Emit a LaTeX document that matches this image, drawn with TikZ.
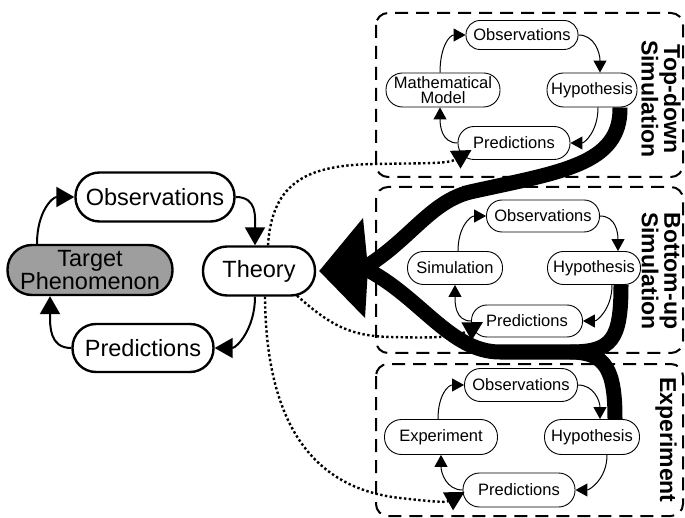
\documentclass[tikz,border=0pt]{standalone}
\usepackage{fontspec}
\setmainfont{Liberation Sans}
\usetikzlibrary{arrows.meta,calc}
\pgfdeclarelayer{background}
\pgfsetlayers{background,main}
\begin{document}
\begin{tikzpicture}[x=1pt,y=-1pt,
  bignode/.style={draw, fill=white, line width=2.4pt, inner sep=0pt, align=center,
    font=\fontsize{23.5}{19}\selectfont},
  smallnode/.style={draw, fill=white, line width=0.9pt, inner sep=0pt, align=center,
    font=\fontsize{16.5}{15.5}\selectfont},
  sidelabel/.style={rotate=-90, inner sep=0pt, align=center,
    font=\bfseries\fontsize{23}{20}\selectfont},
  bigarrow/.style={line width=2pt, -{Triangle[length=18pt,width=20pt]}},
  smallarrow/.style={line width=1pt, -{Triangle[length=12pt,width=13pt]}},
  dotarrow/.style={line width=2.4pt, dash pattern=on 2.4pt off 2.4pt, -{Triangle[length=19pt,width=20pt]}},
  dashbox/.style={line width=2pt, dash pattern=on 13pt off 8pt, rounded corners=12pt},
  band/.style={line width=15pt}
]
\useasboundingbox (0,0) rectangle (685,518);

% ---- left cycle ----
\node[bignode, fill=black!38, minimum width=165pt, minimum height=50pt, rounded corners=24.5pt] (tgt) at (90,270) {Target\\Phenomenon};
\node[bignode, minimum width=159pt, minimum height=49pt, rounded corners=24pt] (obs) at (155,197) {Observations};
\node[bignode, minimum width=112pt, minimum height=49pt, rounded corners=24pt] (thy) at (259,271) {Theory};
\node[bignode, minimum width=141pt, minimum height=48pt, rounded corners=23.5pt] (pred) at (143,348) {Predictions};

\draw[bigarrow] ([xshift=-53pt]tgt.north) .. controls +(0,-32) and +(-22,0) .. (obs.west);
\draw[bigarrow] (obs.east) .. controls +(22,0) and +(0,-28) .. ([xshift=-4pt]thy.north);
\draw[bigarrow] ([xshift=-4pt]thy.south) .. controls +(0,32) and +(22,0) .. (pred.east);
\draw[bigarrow] (pred.west) .. controls +(-22,0) and +(0,30) .. ([xshift=-40pt]tgt.south);

% ---- top-down ----
\node[smallnode, minimum width=112pt, minimum height=29pt, rounded corners=14pt] (tdobs) at (522,35) {Observations};
\node[smallnode, minimum width=114pt, minimum height=34pt, rounded corners=16.5pt] (tdmm) at (443,90) {Mathematical\\Model};
\node[smallnode, minimum width=90pt, minimum height=34pt, rounded corners=16.5pt] (tdhyp) at (592,90) {Hypothesis};
\node[smallnode, minimum width=112pt, minimum height=33pt, rounded corners=16pt] (tdpred) at (514,143) {Predictions};

\draw[smallarrow] ([xshift=-3pt]tdmm.north) .. controls +(0,-26) and +(-16,0) .. (tdobs.west);
\draw[smallarrow] (tdobs.east) .. controls +(16,0) and +(0,-20) .. ([xshift=8pt]tdhyp.north);
\draw[smallarrow] ([xshift=6pt]tdhyp.south) .. controls +(0,24) and +(14,0) .. (tdpred.east);
\draw[smallarrow] (tdpred.west) .. controls +(-16,0) and +(0,18) .. ([xshift=-3pt]tdmm.south);

\node[sidelabel] (tdlab) at (661,99) {Top-down\\Simulation};

% ---- bottom-up ----
\node[smallnode, minimum width=113pt, minimum height=32pt, rounded corners=15.5pt] (buobs) at (543,216) {Observations};
\node[smallnode, minimum width=95pt, minimum height=33pt, rounded corners=16pt] (busim) at (455,268) {Simulation};
\node[smallnode, minimum width=93pt, minimum height=33pt, rounded corners=16pt] (buhyp) at (594,268) {Hypothesis};
\node[smallnode, minimum width=111pt, minimum height=32pt, rounded corners=15.5pt] (bupred) at (527,321) {Predictions};

\draw[smallarrow] ([xshift=3pt]busim.north) .. controls +(0,-24) and +(-16,0) .. (buobs.west);
\draw[smallarrow] (buobs.east) .. controls +(16,0) and +(0,-18) .. ([xshift=24pt]buhyp.north);
\draw[smallarrow] ([xshift=18pt]buhyp.south) .. controls +(0,24) and +(14,0) .. (bupred.east);
\draw[smallarrow] (bupred.west) .. controls +(-16,0) and +(0,18) .. (busim.south);

\node[sidelabel] (bulab) at (661,271) {Bottom-up\\Simulation};

% ---- experiment ----
\node[smallnode, minimum width=113pt, minimum height=33pt, rounded corners=16pt] (exobs) at (521,385) {Observations};
\node[smallnode, minimum width=113pt, minimum height=35pt, rounded corners=17pt] (exexp) at (441,437) {Experiment};
\node[smallnode, minimum width=95pt, minimum height=35pt, rounded corners=17pt] (exhyp) at (592,437) {Hypothesis};
\node[smallnode, minimum width=112pt, minimum height=34pt, rounded corners=16.5pt] (expred) at (519,490) {Predictions};

\draw[smallarrow] ([xshift=-3pt]exexp.north) .. controls +(0,-24) and +(-16,0) .. (exobs.west);
\draw[smallarrow] (exobs.east) .. controls +(16,0) and +(0,-18) .. ([xshift=8pt]exhyp.north);
\draw[smallarrow] ([xshift=15pt]exhyp.south) .. controls +(0,24) and +(14,0) .. (expred.east);
\draw[smallarrow] (expred.west) .. controls +(-16,0) and +(0,18) .. (exexp.south);

\node[sidelabel] (exlab) at (666,440) {Experiment};

% ---- dotted links ----
\draw[dotarrow] ([xshift=9pt]thy.north) .. controls (272,180) and (310,165) .. (375,164)
   .. controls (425,163) and (448,164) .. ([xshift=14pt,yshift=-7pt]tdpred.west);
\draw[dotarrow] ([xshift=38pt,yshift=1pt]thy.south) .. controls (330,325) and (350,336) .. (390,337)
   .. controls (430,338) and (455,338) .. ([xshift=12pt,yshift=-1pt]bupred.west);
\draw[dotarrow] ([xshift=6pt]thy.south) .. controls (266,420) and (310,488) .. (400,498)
   .. controls (428,501) and (445,503) .. ([xshift=2pt,yshift=-2pt]expred.west);

% ---- background: boxes and thick bands ----
\coordinate (tip) at ([xshift=3pt]thy.east);
\coordinate (back) at (364,268);
\begin{pgfonlayer}{background}
\draw[dashbox] (376,13) rectangle (683,177);
\draw[dashbox] (376,187) rectangle (683,353);
\draw[dashbox] (376,364) rectangle (683,516);
\draw[band] ([xshift=28pt]tdhyp.south) .. controls (621,165) and (560,172) .. (470,192)
   .. controls (430,202) and (410,240) .. (back);
\draw[band] ([xshift=27pt]buhyp.south) .. controls (621,340) and (612,352) .. (570,352)
   -- (500,352) .. controls (450,352) and (420,296) .. (back);
\draw[band] ([xshift=23pt]exhyp.north) .. controls (615,370) and (606,352) .. (570,352);
\fill (tip) -- (363,218) -- (368,268) -- (365,318) -- cycle;
\end{pgfonlayer}
\end{tikzpicture}
\end{document}
